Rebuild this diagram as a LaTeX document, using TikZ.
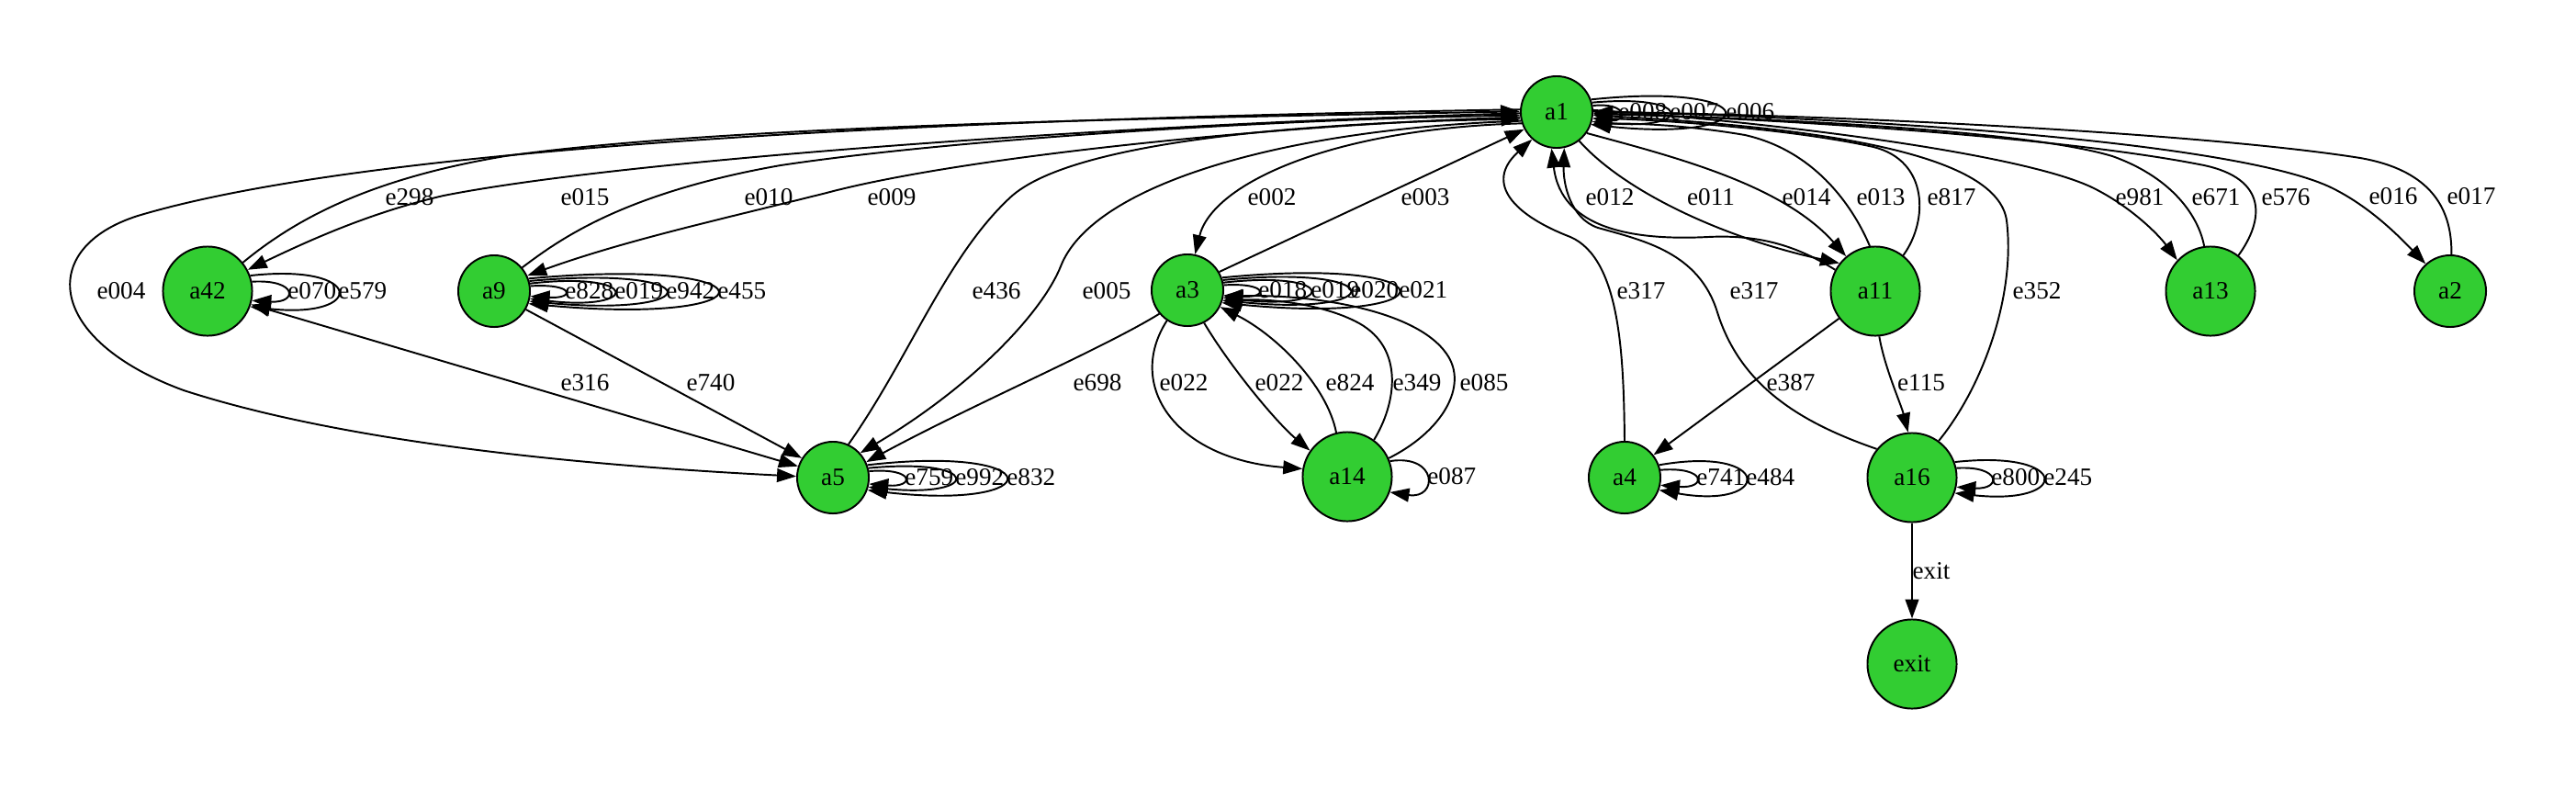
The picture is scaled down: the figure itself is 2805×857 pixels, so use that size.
\documentclass[tikz,border=0pt]{standalone}
\usepackage{fontspec}
\setmainfont{Liberation Serif}
\usetikzlibrary{arrows.meta}
\definecolor{nodegreen}{RGB}{50,205,50}
\newcommand\myloop[4]{\draw[edge] (#1.#2) .. controls +(#3,-#4) and +(#3,#4) .. (#1.-#2);}
\begin{document}
\begin{tikzpicture}[x=0.515pt,y=-0.515pt,
  >={Triangle[length=10.8pt,width=7.6pt]},
  st/.style={circle,draw=black,line width=1pt,fill=nodegreen,minimum size=40.2pt,inner sep=0pt,font=\fontsize{14}{17}\selectfont},
  stb/.style={st,minimum size=50pt},
  edge/.style={line width=1pt,->},
  lbl/.style={inner sep=0pt,font=\fontsize{14}{17}\selectfont},
  lbw/.style={lbl,anchor=west}]
\useasboundingbox (0,0) rectangle (2805,857);
% nodes
\node[st]  (a1)   at (1695,122) {a1};
\node[stb] (a42)  at (226,317)  {a42};
\node[st]  (a9)   at (538,317)  {a9};
\node[st]  (a3)   at (1293,316) {a3};
\node[stb] (a11)  at (2042,317) {a11};
\node[stb] (a13)  at (2407,317) {a13};
\node[st]  (a2)   at (2668,317) {a2};
\node[st]  (a5)   at (907,520)  {a5};
\node[stb] (a14)  at (1467,519) {a14};
\node[st]  (a4)   at (1769,520) {a4};
\node[stb] (a16)  at (2082,520) {a16};
\node[stb] (exit) at (2082,723) {exit};
% self loops
\myloop{a1}{10}{38}{4}
\myloop{a1}{15}{111}{10}
\myloop{a1}{20}{192}{20}
\myloop{a3}{8}{48.5}{3}
\myloop{a3}{12}{125}{14}
\myloop{a3}{16}{183}{18}
\myloop{a3}{20}{255}{25}
\myloop{a9}{8}{48.5}{3}
\myloop{a9}{12}{121}{14}
\myloop{a9}{16}{197}{18}
\myloop{a9}{20}{273}{25}
\myloop{a42}{12}{50}{3}
\myloop{a42}{20}{126}{14}
\myloop{a5}{10}{50}{4}
\myloop{a5}{15}{124}{12}
\myloop{a5}{20}{200}{23}
\myloop{a14}{20}{52.5}{8}
\myloop{a4}{12}{50.5}{4}
\myloop{a4}{20}{124.5}{22}
\myloop{a16}{12}{49}{3}
\myloop{a16}{20}{127}{14}
% loop labels
\node[lbw] (l008) at (1762,122) {e008};
\node[lbw] (l007) at (1818,122) {e007};
\node[lbw] (l006) at (1879,122) {e006};
\node[lbw] (l018) at (1370,316) {e018};
\node[lbw] (l019a) at (1427,316) {e019};
\node[lbw] (l020) at (1470,316) {e020};
\node[lbw] (l021) at (1523,316) {e021};
\node[lbw] (l828) at (615,317) {e828};
\node[lbw] (l019b) at (669,317) {e019};
\node[lbw] (l942) at (725,317) {e942};
\node[lbw] (l455) at (781,317) {e455};
\node[lbw] (l070) at (313,317) {e070};
\node[lbw] (l579) at (368,317) {e579};
\node[lbw] (l759) at (985,520) {e759};
\node[lbw] (l992) at (1040,520) {e992};
\node[lbw] (l832) at (1096,520) {e832};
\node[lbw] (l087) at (1554,519) {e087};
\node[lbw] (l741) at (1847,520) {e741};
\node[lbw] (l484) at (1901,520) {e484};
\node[lbw] (l800) at (2168,520) {e800};
\node[lbw] (l245) at (2225,520) {e245};
% edges to the left of a1
\draw[edge] (a1.176) .. controls (1000,130) and (400,160) .. (150,235) .. controls (40,270) and (50,370) .. (200,425) .. controls (400,490) and (700,510) .. (a5.178);
\draw[edge] (a42.39) .. controls (320,240) and (400,195) .. (550,170) .. controls (800,135) and (1300,128) .. (a1.179);
\draw[edge] (a1.182) .. controls (1300,132) and (700,170) .. (483,213) .. controls (400,232) and (330,265) .. (a42.28);
\draw[edge] (a9.40) .. controls (610,260) and (680,210) .. (850,180) .. controls (1050,150) and (1400,130) .. (a1.185);
\draw[edge] (a1.188) .. controls (1400,135) and (1050,170) .. (900,210) .. controls (780,240) and (680,262) .. (a9.25);
\draw[edge] (a5.65) .. controls (990,390) and (1030,280) .. (1100,215) .. controls (1170,150) and (1450,133) .. (a1.191);
\draw[edge] (a1.194) .. controls (1400,140) and (1190,200) .. (1155,290) .. controls (1135,340) and (1060,420) .. (a5.42);
\draw[edge] (a1.198) .. controls (1450,140) and (1320,200) .. (a3.78);
\draw[edge] (a3.30) -- (a1.208);
\draw[edge] (a9.330) -- (a5.148);
\draw[edge,<->] (a42.343) -- (a5.162);
\draw[edge] (a3.220) .. controls (1200,380) and (1060,440) .. (a5.25);
% a3 - a14
\draw[edge] (a3.236) .. controls (1225,420) and (1280,500) .. (a14.170);
\draw[edge] (a3.297) .. controls (1340,400) and (1390,460) .. (a14.145);
\draw[edge] (a14.104) .. controls (1445,420) and (1390,365) .. (a3.333);
\draw[edge] (a14.54) .. controls (1520,440) and (1530,380) .. (1480,352) .. controls (1440,330) and (1380,325) .. (a3.343);
\draw[edge] (a14.24) .. controls (1570,470) and (1600,420) .. (1575,385) .. controls (1540,335) and (1420,320) .. (a3.350);
% a1 - a11
\draw[edge] (a1.308) .. controls (1770,210) and (1880,260) .. (a11.142);
\draw[edge] (a1.325) .. controls (1820,170) and (1940,200) .. (a11.130);
\draw[edge] (a11.152) .. controls (1960,270) and (1920,255) .. (1860,258) .. controls (1780,262) and (1700,250) .. (a1.262);
\draw[edge] (a11.97) .. controls (2020,230) and (1980,165) .. (1900,147) .. controls (1830,135) and (1770,134) .. (a1.340);
\draw[edge] (a11.52) .. controls (2100,240) and (2100,175) .. (2040,160) .. controls (1950,140) and (1800,130) .. (a1.350);
% e317 edges
\draw[edge] (a4.90) .. controls (1768,390) and (1765,282) .. (1710,258) .. controls (1650,235) and (1615,200) .. (a1.228);
\draw[edge] (a16.141) .. controls (1960,460) and (1895,420) .. (1870,340) .. controls (1850,275) and (1790,262) .. (1740,248) .. controls (1710,238) and (1702,200) .. (a1.282);
% a11 / a16
\draw[edge] (a11.217) -- (a4.38);
\draw[edge] (a11.275) .. controls (2052,400) and (2070,440) .. (a16.95);
\draw[edge] (a16) -- (exit);
\draw[edge] (a16.54) .. controls (2160,420) and (2195,320) .. (2185,240) .. controls (2175,170) and (2000,140) .. (a1.355);
% right side
\draw[edge] (a1.3) .. controls (1900,130) and (2200,165) .. (2280,205) .. controls (2320,225) and (2350,255) .. (a13.137);
\draw[edge] (a13.98) .. controls (2395,240) and (2370,195) .. (2300,170) .. controls (2200,140) and (1900,128) .. (a1.357);
\draw[edge] (a13.52) .. controls (2465,240) and (2470,195) .. (2400,180) .. controls (2250,150) and (1950,130) .. (a1.358);
\draw[edge] (a1.1) .. controls (2100,130) and (2450,160) .. (2540,205) .. controls (2580,225) and (2610,255) .. (a2.132);
\draw[edge] (a2.88) .. controls (2670,230) and (2650,186) .. (2570,172) .. controls (2400,145) and (2000,125) .. (a1.0);
% edge labels
\node[lbl] (l004) at (132,317) {e004};
\node[lbl] (l298) at (446,215) {e298};
\node[lbl] (l015) at (637,215) {e015};
\node[lbl] (l010) at (837,215) {e010};
\node[lbl] (l009) at (971,215) {e009};
\node[lbl] (l002) at (1385,215) {e002};
\node[lbl] (l003) at (1552,215) {e003};
\node[lbl] (l012) at (1753,215) {e012};
\node[lbl] (l011) at (1863,215) {e011};
\node[lbl] (l014) at (1967,215) {e014};
\node[lbl] (l013) at (2048,215) {e013};
\node[lbl] (l817) at (2125,215) {e817};
\node[lbl] (l981) at (2330,215) {e981};
\node[lbl] (l671) at (2413,215) {e671};
\node[lbl] (l576) at (2489,215) {e576};
\node[lbl] (l016) at (2606,214) {e016};
\node[lbl] (l017) at (2691,214) {e017};
\node[lbl] (l436) at (1085,317) {e436};
\node[lbl] (l005) at (1205,317) {e005};
\node[lbl] (l317a) at (1787,317) {e317};
\node[lbl] (l317b) at (1910,317) {e317};
\node[lbl] (l352) at (2218,317) {e352};
\node[lbl] (l316) at (637,417) {e316};
\node[lbl] (l740) at (774,417) {e740};
\node[lbl] (l698) at (1195,417) {e698};
\node[lbl] (l022a) at (1289,417) {e022};
\node[lbl] (l022b) at (1393,417) {e022};
\node[lbl] (l824) at (1470,417) {e824};
\node[lbl] (l349) at (1543,417) {e349};
\node[lbl] (l085) at (1616,417) {e085};
\node[lbl] (l387) at (1950,417) {e387};
\node[lbl] (l115) at (2092,417) {e115};
\node[lbl] (lexit) at (2103,622) {exit};
\end{tikzpicture}
\end{document}
